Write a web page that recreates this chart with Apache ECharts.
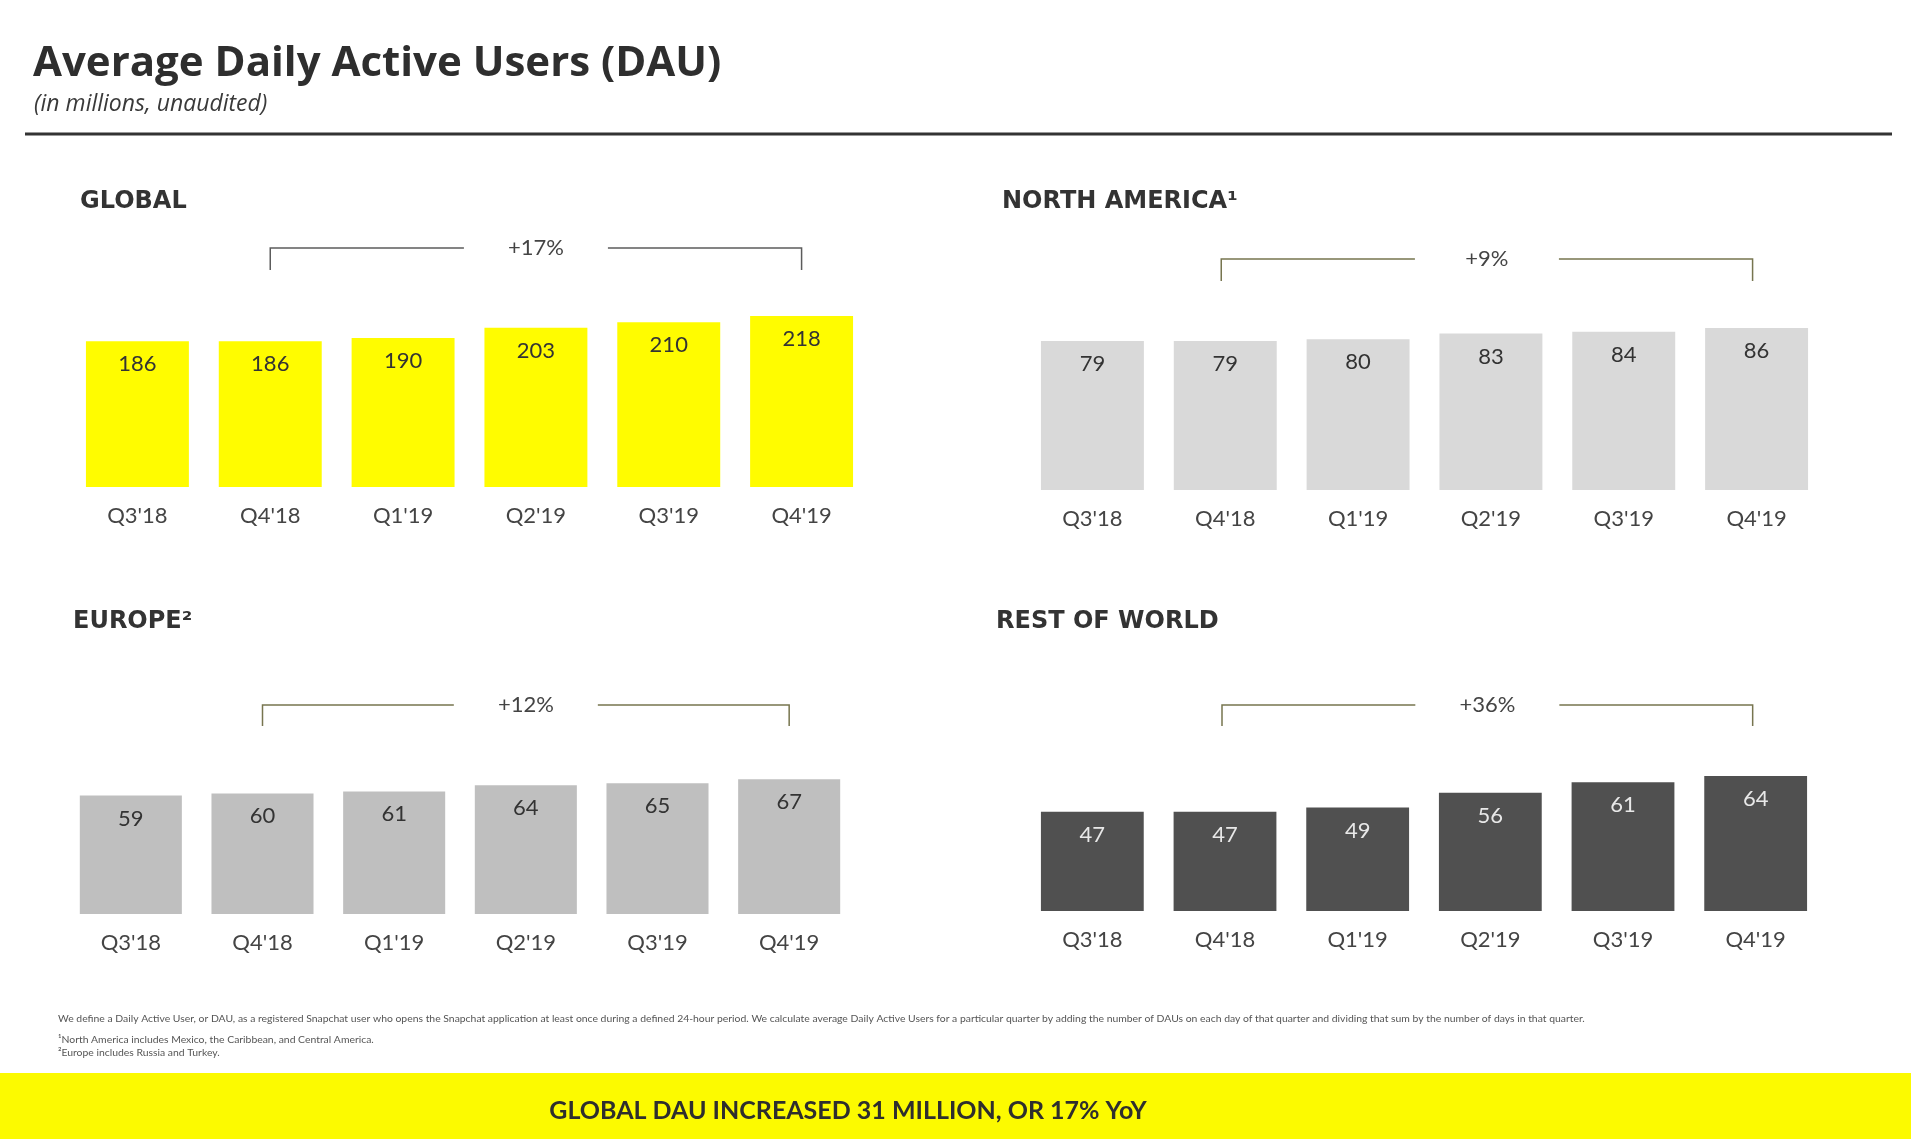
<!DOCTYPE html>
<html>
<head>
<meta charset="utf-8">
<title>Average Daily Active Users (DAU)</title>
<script src="https://cdn.jsdelivr.net/npm/echarts@6/dist/echarts.min.js"></script>
<style>
  html, body { margin: 0; padding: 0; background: #fff; }
  #chart { width: 1911px; height: 1139px; }
</style>
</head>
<body>
<div id="chart"></div>
<script>
// data (millions)
const quarters = ["Q3'18", "Q4'18", "Q1'19", "Q2'19", "Q3'19", "Q4'19"];
const globalDau = [186, 186, 190, 203, 210, 218];
const northAmericaDau = [79, 79, 80, 83, 84, 86];
const europeDau = [59, 60, 61, 64, 65, 67];
const restOfWorldDau = [47, 47, 49, 56, 61, 64];
const growthLabels = ['+17%', '+9%', '+12%', '+36%'];
const panelTitles = ['GLOBAL', 'NORTH AMERICA\u00b9', 'EUROPE\u00b2', 'REST OF WORLD'];

const FONT = 'Lato, "Open Sans", sans-serif';
const TEXT = '#3a3a3a';

// layout of the four small charts
const panels = [
	{ data: globalDau, grid: { left: 71, top: 291, width: 797, height: 196 }, max: 250,
		bar: '#FFFC00', label: '#333', titleX: 80, titleY: 201, brY: 248, brTick: 270, brColor: '#5c5c5c', brShift: 0 },
	{ data: northAmericaDau, grid: { left: 1026, top: 301.5, width: 797, height: 188.5 }, max: 100,
		bar: '#D9D9D9', label: '#333', titleX: 1002, titleY: 201, brY: 259, brTick: 281, brColor: '#77754f', brShift: -4 },
	{ data: europeDau, grid: { left: 65, top: 713, width: 790, height: 201 }, max: 100,
		bar: '#BFBFBF', label: '#333', titleX: 73, titleY: 621, brY: 705, brTick: 726, brColor: '#77754f', brShift: 0 },
	{ data: restOfWorldDau, grid: { left: 1026, top: 700, width: 796, height: 211 }, max: 100,
		bar: '#505050', label: '#e8e8e8', titleX: 996, titleY: 621, brY: 705, brTick: 726, brColor: '#77754f', brShift: -3 }
];

const chart = echarts.init(document.getElementById('chart'));

const option = {
	animation: false,
	backgroundColor: '#fff',
	grid: panels.map(p => Object.assign({ containLabel: false }, p.grid)),
	xAxis: panels.map((p, i) => ({
		type: 'category',
		gridIndex: i,
		data: quarters,
		axisLine: { show: false },
		axisTick: { show: false },
		axisLabel: { margin: 18, fontSize: 22, fontFamily: FONT, color: '#444' }
	})),
	yAxis: panels.map((p, i) => ({
		type: 'value',
		gridIndex: i,
		min: 0,
		max: p.max,
		show: false,
		splitLine: { show: false }
	})),
	series: panels.map((p, i) => ({
		type: 'bar',
		xAxisIndex: i,
		yAxisIndex: i,
		data: p.data,
		barCategoryGap: '22.5%',
		itemStyle: { color: p.bar },
		label: {
			show: true,
			position: 'insideTop',
			distance: 12,
			fontSize: 22,
			fontFamily: FONT,
			color: p.label
		}
	}))
};

chart.setOption(option);

const graphics = [
	{ type: 'text', style: { text: 'Average Daily Active Users (DAU)', x: 33, y: 64, textVerticalAlign: 'middle',
		fontSize: 42, fontWeight: 'bold', fontFamily: '"Open Sans", Lato, sans-serif', fill: '#2e2e2e' } },
	{ type: 'text', style: { text: '(in millions, unaudited)', x: 34, y: 104, textVerticalAlign: 'middle',
		fontSize: 23, fontStyle: 'italic', fontFamily: '"Open Sans", Lato, sans-serif', fill: TEXT } },
	{ type: 'line', shape: { x1: 25, y1: 134, x2: 1892, y2: 134 }, style: { stroke: '#333', lineWidth: 3 } },
	{ type: 'text', style: { text: 'We define a Daily Active User, or DAU, as a registered Snapchat user who opens the Snapchat application at least once during a defined 24-hour period. We calculate average Daily Active Users for a particular quarter by adding the number of DAUs on each day of that quarter and dividing that sum by the number of days in that quarter.',
		x: 58, y: 1019, textVerticalAlign: 'middle', fontSize: 10.4, fontFamily: FONT, fill: '#555' } },
	{ type: 'text', style: { text: '\u00b9North America includes Mexico, the Caribbean, and Central America.',
		x: 58, y: 1040, textVerticalAlign: 'middle', fontSize: 10.4, fontFamily: FONT, fill: '#555' } },
	{ type: 'text', style: { text: '\u00b2Europe includes Russia and Turkey.',
		x: 58, y: 1053, textVerticalAlign: 'middle', fontSize: 10.4, fontFamily: FONT, fill: '#555' } },
	{ type: 'rect', shape: { x: 0, y: 1073, width: 1911, height: 66 }, style: { fill: '#FCFA00' } },
	{ type: 'text', style: { text: 'GLOBAL DAU INCREASED 31 MILLION, OR 17% YoY', x: 848, y: 1111,
		textAlign: 'center', textVerticalAlign: 'middle', fontSize: 25, fontWeight: 'bold', fontFamily: FONT, fill: '#2e2e2e' } }
];

panels.forEach((p, i) => {
	graphics.push({ type: 'text', style: { text: panelTitles[i], x: p.titleX, y: p.titleY + 1, textVerticalAlign: 'middle',
		fontSize: 24, fontWeight: 'bold', fontFamily: '"DejaVu Sans", sans-serif', fill: '#333' } });

	// growth bracket from Q4'18 to Q4'19
	const x1 = chart.convertToPixel({ xAxisIndex: i, yAxisIndex: i }, [quarters[1], 0])[0] + p.brShift;
	const x2 = chart.convertToPixel({ xAxisIndex: i, yAxisIndex: i }, [quarters[5], 0])[0] + p.brShift;
	const mid = (x1 + x2) / 2;
	const lineStyle = { stroke: p.brColor, lineWidth: 1.5, fill: null };
	graphics.push({ type: 'polyline', shape: { points: [[x1, p.brTick], [x1, p.brY], [mid - 72, p.brY]] }, style: lineStyle });
	graphics.push({ type: 'polyline', shape: { points: [[mid + 72, p.brY], [x2, p.brY], [x2, p.brTick]] }, style: lineStyle });
	graphics.push({ type: 'text', style: { text: growthLabels[i], x: mid, y: p.brY, textAlign: 'center', textVerticalAlign: 'middle',
		fontSize: 22, fontFamily: FONT, fill: '#444' } });
});

chart.setOption({ graphic: graphics });
</script>
</body>
</html>
